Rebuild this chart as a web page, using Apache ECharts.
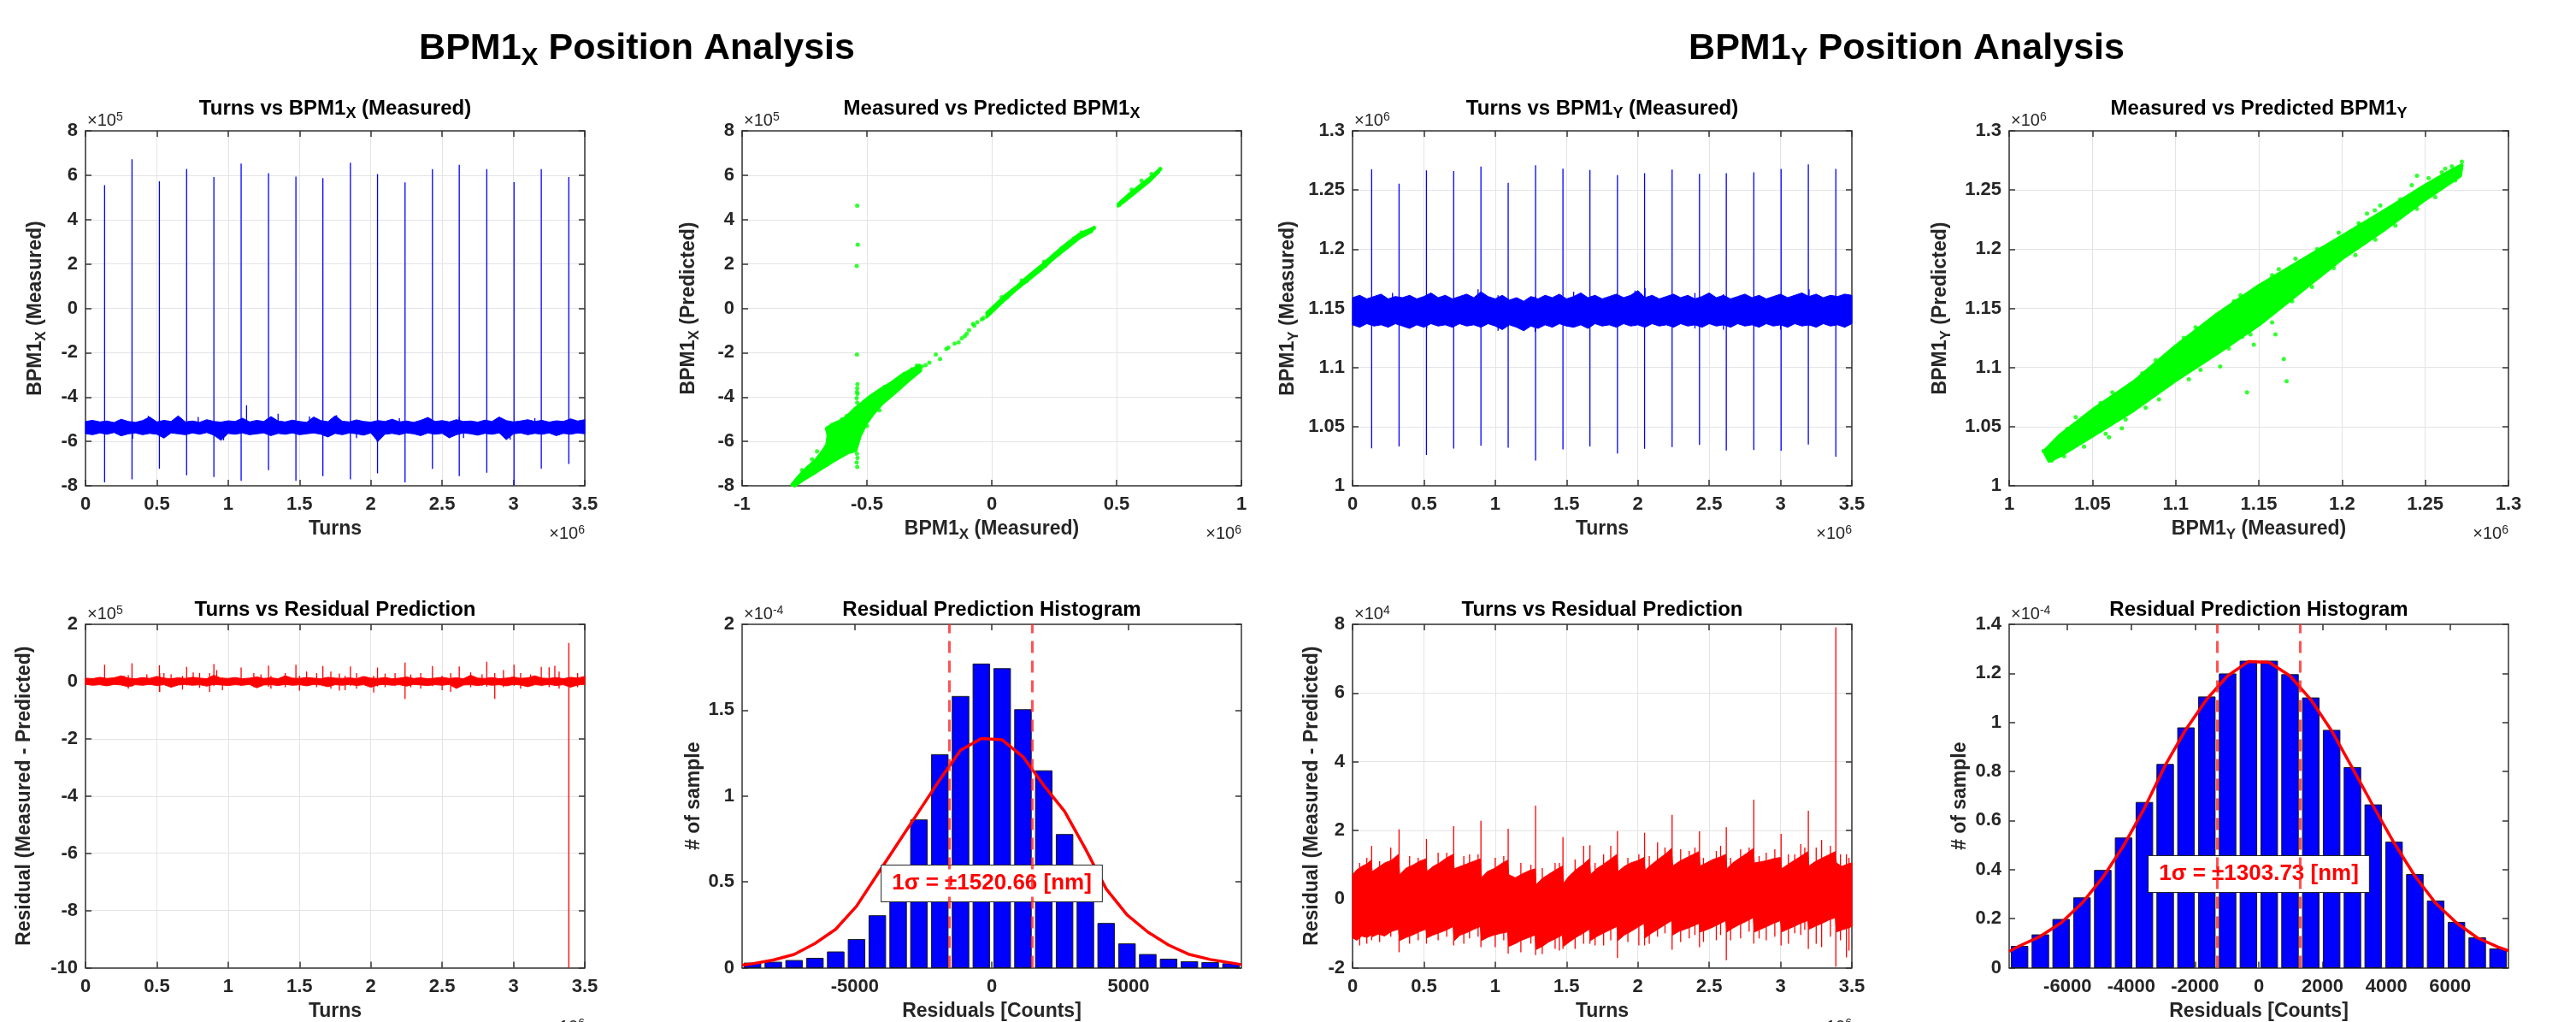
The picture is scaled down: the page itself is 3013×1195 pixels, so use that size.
<!DOCTYPE html>
<html>
<head>
<meta charset="utf-8">
<title>BPM1 Position Analysis</title>
<script src="https://cdn.jsdelivr.net/npm/echarts@6/dist/echarts.min.js"></script>
<style>
  html, body { margin: 0; padding: 0; background: #ffffff; }
  #chart { width: 3013px; height: 1195px; }
</style>
</head>
<body>
<div id="chart"></div>
<script>
// ---------------------------------------------------------------------------
// Data. Turns are in units of 10^6; every other value is in the unit that its
// axis multiplier shows (x10^5, x10^6, x10^4 or x10^-4).
// ---------------------------------------------------------------------------

// Turns at which the orbit kicks appear
const kickTurns = [0.134, 0.326, 0.518, 0.709, 0.900, 1.091, 1.283, 1.475, 1.664,
                   1.857, 2.047, 2.240, 2.432, 2.620, 2.813, 3.004, 3.195, 3.388];

// Spacing of the envelope samples of the noise bands (turns x10^6)
const bandStep = 0.05;

// BPM1 X measured (x10^5)
const xKickHigh = [5.55, 6.72, 5.73, 6.28, 5.92, 6.53, 6.09, 5.94, 5.87, 6.56, 6.05, 5.68, 6.27, 6.47, 6.27, 5.69, 6.27, 5.92];
const xKickLow  = [-7.85, -7.71, -7.23, -7.53, -7.60, -7.78, -7.30, -7.78, -7.57, -7.71, -7.44, -7.85, -7.24, -7.57, -7.41, -7.96, -7.23, -7.02];
const xBandHigh = [
  -5.10, -5.05, -5.12, -5.08, -5.15, -5.00, -5.10, -5.14, -5.06, -4.90,
  -5.12, -5.05, -5.10, -4.85, -5.12, -5.08, -5.14, -5.02, -5.10, -5.13,
  -5.07, -5.10, -4.95, -5.12, -5.05, -5.10, -4.88, -5.08, -5.12, -5.04,
  -5.10, -5.14, -4.90, -5.06, -5.11, -4.84, -5.09, -5.12, -5.03, -5.10,
  -5.13, -5.06, -5.10, -5.00, -5.12, -5.08, -5.14, -5.05, -4.92, -5.10,
  -5.06, -5.12, -5.02, -5.10, -5.08, -5.13, -5.04, -5.10, -4.90, -5.06,
  -5.12, -5.08, -5.02, -5.10, -5.05, -5.13, -5.07, -5.10, -4.98, -5.08, -5.02];
const xBandLow = [
  -5.65, -5.70, -5.62, -5.68, -5.60, -5.75, -5.66, -5.62, -5.70, -5.64,
  -5.68, -5.85, -5.62, -5.66, -5.70, -5.62, -5.68, -5.60, -5.72, -5.95,
  -5.64, -5.68, -5.62, -5.70, -5.66, -5.62, -5.74, -5.64, -5.68, -5.62,
  -5.70, -5.66, -5.62, -5.68, -5.80, -5.64, -5.70, -5.62, -5.66, -5.72,
  -5.62, -6.00, -5.68, -5.64, -5.70, -5.62, -5.66, -5.74, -5.62, -5.68,
  -5.64, -5.84, -5.70, -5.62, -5.66, -5.72, -5.64, -5.68, -5.62, -5.92,
  -5.66, -5.62, -5.70, -5.64, -5.68, -5.62, -5.74, -5.64, -5.68, -5.62, -5.66];
// [turn, high, low]
const xGlitches = [
  [1.129, -4.37, -5.40], [1.350, -4.75, -5.50], [0.440, -4.85, -5.50], [0.790, -4.90, -5.60],
  [1.570, -4.88, -5.50], [1.760, -4.82, -5.50], [2.620, -4.90, -5.50], [2.200, -4.95, -5.60],
  [3.150, -4.95, -5.60], [0.968, -5.20, -5.95], [2.045, -5.10, -6.02], [2.977, -5.20, -5.92],
  [0.330, -5.10, -5.88], [1.900, -5.20, -5.85], [2.650, -5.20, -5.85]];

// BPM1 Y measured (x10^6)
const yKickHigh = [1.2675, 1.2554, 1.2665, 1.2660, 1.2698, 1.2560, 1.2709, 1.2680, 1.2670, 1.2626, 1.2642, 1.2673, 1.2637, 1.2642, 1.2650, 1.2678, 1.2716, 1.2678];
const yKickLow  = [1.0317, 1.0332, 1.0260, 1.0314, 1.0338, 1.0322, 1.0214, 1.0307, 1.0332, 1.0273, 1.0312, 1.0327, 1.0345, 1.0299, 1.0302, 1.0296, 1.0348, 1.0245];
const yBandHigh = [
  1.159, 1.161, 1.158, 1.160, 1.162, 1.158, 1.160, 1.159, 1.161, 1.158,
  1.160, 1.163, 1.159, 1.161, 1.158, 1.160, 1.162, 1.159, 1.164, 1.160,
  1.158, 1.161, 1.157, 1.159, 1.156, 1.160, 1.158, 1.161, 1.159, 1.162,
  1.158, 1.160, 1.163, 1.159, 1.161, 1.158, 1.160, 1.162, 1.159, 1.161,
  1.165, 1.159, 1.161, 1.158, 1.160, 1.162, 1.159, 1.161, 1.158, 1.160,
  1.163, 1.159, 1.161, 1.158, 1.160, 1.162, 1.159, 1.161, 1.158, 1.160,
  1.162, 1.159, 1.161, 1.163, 1.160, 1.162, 1.159, 1.161, 1.160, 1.162, 1.161];
const yBandLow = [
  1.136, 1.134, 1.137, 1.135, 1.136, 1.134, 1.137, 1.135, 1.133, 1.136,
  1.134, 1.137, 1.135, 1.136, 1.134, 1.137, 1.135, 1.136, 1.134, 1.137,
  1.135, 1.132, 1.136, 1.134, 1.131, 1.135, 1.133, 1.136, 1.134, 1.137,
  1.135, 1.134, 1.136, 1.133, 1.137, 1.135, 1.136, 1.134, 1.137, 1.135,
  1.136, 1.134, 1.137, 1.135, 1.136, 1.134, 1.137, 1.135, 1.136, 1.134,
  1.137, 1.135, 1.136, 1.134, 1.137, 1.135, 1.136, 1.134, 1.137, 1.135,
  1.136, 1.134, 1.137, 1.135, 1.136, 1.134, 1.137, 1.135, 1.136, 1.134, 1.137];
const yGlitches = [
  [0.280, 1.163, 1.136], [0.520, 1.162, 1.133], [0.880, 1.166, 1.137], [1.020, 1.161, 1.131],
  [1.280, 1.160, 1.130], [1.550, 1.164, 1.136], [1.980, 1.165, 1.135], [2.050, 1.167, 1.136],
  [2.400, 1.163, 1.133], [2.600, 1.162, 1.132], [3.000, 1.161, 1.132], [3.200, 1.166, 1.135],
  [3.450, 1.162, 1.134]];

// Measured vs predicted X: dense cloud outlines [measured x10^6, predicted x10^5]
const xCloud = [
  [-0.800, -7.95], [-0.770, -7.55], [-0.738, -7.18], [-0.705, -6.85], [-0.680, -6.50],
  [-0.660, -6.15], [-0.655, -5.75], [-0.660, -5.40], [-0.630, -5.20], [-0.600, -5.05],
  [-0.572, -4.80], [-0.547, -4.52], [-0.520, -4.28], [-0.490, -4.00], [-0.440, -3.62],
  [-0.400, -3.35], [-0.360, -3.02], [-0.320, -2.78], [-0.290, -2.58], [-0.285, -2.80],
  [-0.330, -3.22], [-0.380, -3.72], [-0.440, -4.30], [-0.475, -4.75], [-0.505, -5.22],
  [-0.528, -5.75], [-0.545, -6.40], [-0.575, -6.50], [-0.638, -6.90], [-0.705, -7.38],
  [-0.755, -7.72], [-0.790, -8.00]];
const xStrandMid = [
  [-0.020, -0.20], [0.050, 0.55], [0.100, 1.00], [0.150, 1.50], [0.200, 1.95], [0.250, 2.45],
  [0.300, 2.92], [0.350, 3.35], [0.410, 3.65], [0.400, 3.45], [0.350, 3.15], [0.300, 2.70],
  [0.250, 2.25], [0.200, 1.75], [0.150, 1.30], [0.100, 0.85], [0.050, 0.35], [-0.020, -0.40]];
const xStrandTop = [
  [0.505, 4.70], [0.550, 5.15], [0.600, 5.60], [0.640, 5.95], [0.675, 6.30],
  [0.670, 6.15], [0.630, 5.70], [0.580, 5.25], [0.530, 4.80], [0.505, 4.60]];
const xPoints = [
  [-0.265, -2.56], [-0.224, -2.08], [-0.207, -2.28], [-0.182, -1.83], [-0.174, -1.77], [-0.149, -1.59],
  [-0.133, -1.53], [-0.108, -1.25], [-0.091, -0.98], [-0.075, -0.70], [-0.058, -0.63], [-0.033, -0.43],
  [-0.017, -0.22], [-0.250, -2.45], [-0.280, -2.62], [-0.120, -1.35], [-0.100, -1.15], [-0.070, -0.78],
  [-0.040, -0.50],
  [-0.539, 4.63], [-0.537, 2.87], [-0.541, 1.91], [-0.540, -2.08], [-0.538, -3.42], [-0.539, -3.60],
  [-0.540, -3.77], [-0.538, -3.86], [-0.541, -4.05], [-0.539, -4.25], [-0.540, -6.55], [-0.538, -6.75],
  [-0.541, -6.95], [-0.539, -7.15],
  [0.040, 0.50], [0.060, 0.48], [0.120, 1.25], [0.140, 1.22], [0.210, 2.10], [0.215, 1.92],
  [0.280, 2.72], [0.330, 3.15], [0.360, 3.42], [0.390, 3.45], [0.410, 3.62],
  [0.510, 4.66], [0.560, 5.35], [0.600, 5.75], [0.640, 6.05], [0.665, 6.15], [0.675, 6.28],
  [-0.660, -5.45], [-0.640, -5.25], [-0.600, -5.00], [-0.580, -4.85], [-0.700, -6.45], [-0.720, -6.80],
  [-0.760, -7.30], [-0.510, -4.20], [-0.470, -3.95], [-0.430, -3.55], [-0.350, -2.95], [-0.320, -2.75],
  [-0.300, -2.58], [-0.360, -3.25], [-0.450, -4.60], [-0.500, -5.30], [-0.600, -6.60], [-0.660, -7.05]];

// Measured vs predicted Y (x10^6 on both axes)
const yCloud = [
  [1.021, 1.029], [1.030, 1.042], [1.050, 1.064], [1.075, 1.088], [1.100, 1.118], [1.125, 1.145],
  [1.150, 1.169], [1.175, 1.190], [1.200, 1.211], [1.225, 1.232], [1.250, 1.254], [1.265, 1.266],
  [1.272, 1.271], [1.271, 1.262], [1.250, 1.242], [1.225, 1.216], [1.200, 1.192], [1.175, 1.164],
  [1.150, 1.136], [1.125, 1.112], [1.100, 1.089], [1.075, 1.064], [1.050, 1.042], [1.030, 1.025],
  [1.024, 1.021]];
const yPoints = [
  [1.1429, 1.0789], [1.1650, 1.1072], [1.1667, 1.0884], [1.1268, 1.1008], [1.0677, 1.0487],
  [1.1470, 1.1193], [1.0207, 1.0294], [1.0256, 1.0214], [1.2419, 1.2541], [1.2197, 1.2327],
  [1.2720, 1.2740], [1.1400, 1.1260], [1.1600, 1.1280], [1.1870, 1.1840], [1.1300, 1.1320],
  [1.0900, 1.0730], [1.0600, 1.0410], [1.2150, 1.2300], [1.2450, 1.2620], [1.0350, 1.0480],
  [1.0550, 1.0700], [1.0800, 1.0950], [1.1050, 1.1250], [1.1350, 1.1560], [1.1580, 1.1780],
  [1.1850, 1.2000], [1.2100, 1.2220], [1.2350, 1.2420], [1.2600, 1.2650], [1.0450, 1.0330],
  [1.0700, 1.0560], [1.1150, 1.0980], [1.1450, 1.1280], [1.1700, 1.1560], [1.1950, 1.1840],
  [1.2200, 1.2080], [1.2450, 1.2340], [1.2680, 1.2580],
  [1.0400, 1.0580], [1.0620, 1.0790], [1.0880, 1.1060], [1.1120, 1.1340], [1.1390, 1.1610],
  [1.1620, 1.1830], [1.1720, 1.1920], [1.1980, 1.2140], [1.2230, 1.2370], [1.2520, 1.2600],
  [1.0330, 1.0250], [1.0580, 1.0440], [1.0820, 1.0660], [1.1080, 1.0900], [1.1320, 1.1160],
  [1.1580, 1.1380], [1.1820, 1.1680], [1.2080, 1.1950], [1.2320, 1.2200], [1.2560, 1.2440],
  [1.2660, 1.2700], [1.2620, 1.2680], [1.0280, 1.0360], [1.0240, 1.0300]];

// Residual X (x10^5)
const resXKickHigh = [0.59, 0.64, 0.57, 0.51, 0.61, 0.49, 0.56, 0.59, 0.54, 0.53, 0.49, 0.66, 0.54, 0.53, 0.69, 0.59, 0.51, 1.35];
const resXKickLow  = [-0.15, -0.18, -0.36, -0.14, -0.16, -0.15, -0.18, -0.14, -0.16, -0.15, -0.17, -0.61, -0.16, -0.14, -0.18, -0.15, -0.16, -10.0];
const resXBandHigh = [
  0.12, 0.10, 0.15, 0.11, 0.13, 0.20, 0.12, 0.10, 0.14, 0.11,
  0.18, 0.12, 0.10, 0.13, 0.11, 0.15, 0.12, 0.10, 0.22, 0.12,
  0.11, 0.14, 0.10, 0.12, 0.16, 0.11, 0.13, 0.10, 0.20, 0.12,
  0.11, 0.14, 0.12, 0.10, 0.15, 0.12, 0.11, 0.13, 0.10, 0.18,
  0.12, 0.11, 0.14, 0.10, 0.12, 0.16, 0.11, 0.13, 0.10, 0.12,
  0.15, 0.11, 0.13, 0.10, 0.22, 0.12, 0.11, 0.14, 0.10, 0.12,
  0.16, 0.11, 0.13, 0.20, 0.12, 0.11, 0.14, 0.10, 0.15, 0.12, 0.18];
const resXBandLow = [
  -0.10, -0.13, -0.11, -0.15, -0.10, -0.12, -0.18, -0.11, -0.13, -0.10,
  -0.14, -0.11, -0.20, -0.12, -0.10, -0.13, -0.11, -0.16, -0.10, -0.12,
  -0.14, -0.11, -0.13, -0.10, -0.22, -0.12, -0.11, -0.14, -0.10, -0.13,
  -0.11, -0.15, -0.10, -0.12, -0.18, -0.11, -0.13, -0.10, -0.14, -0.11,
  -0.20, -0.12, -0.10, -0.13, -0.11, -0.16, -0.10, -0.12, -0.14, -0.11,
  -0.13, -0.10, -0.24, -0.12, -0.11, -0.14, -0.10, -0.13, -0.11, -0.15,
  -0.10, -0.12, -0.18, -0.11, -0.13, -0.10, -0.14, -0.11, -0.20, -0.12, -0.10];
const resXGlitches = [
  [0.270, 0.20, -0.10], [0.300, 0.22, -0.25], [0.430, 0.25, -0.10], [0.520, 0.30, -0.36], [0.550, 0.30, -0.10],
  [0.600, 0.25, -0.20], [0.680, 0.20, -0.28], [0.755, 0.32, -0.10], [0.800, 0.30, -0.22], [0.870, 0.30, -0.36],
  [0.920, 0.40, -0.10], [0.960, 0.15, -0.30], [1.180, 0.30, -0.20], [1.230, 0.25, -0.10], [1.300, 0.20, -0.25],
  [1.400, 0.30, -0.20], [1.500, 0.20, -0.32], [1.550, 0.35, -0.15], [1.620, 0.30, -0.20], [1.720, 0.35, -0.25],
  [1.780, 0.28, -0.32], [1.820, 0.20, -0.30], [1.900, 0.30, -0.25], [2.020, 0.20, -0.38], [2.100, 0.28, -0.20],
  [2.170, 0.30, -0.15], [2.280, 0.25, -0.20], [2.350, 0.30, -0.25], [2.500, 0.20, -0.30], [2.560, 0.30, -0.36],
  [2.700, 0.32, -0.20], [2.780, 0.25, -0.15], [2.869, 0.30, -0.61], [2.930, 0.40, -0.20], [3.050, 0.30, -0.25],
  [3.120, 0.25, -0.15], [3.250, 0.50, -0.20], [3.290, 0.55, -0.15], [3.320, 0.35, -0.25], [3.450, 0.30, -0.20]];

// Residual Y (x10^4): band envelope [turn, high, low]
const resYBand = [
  [0.000, 0.71, -1.13], [0.030, 0.85, -1.20], [0.065, 0.95, -1.08], [0.100, 1.02, -1.12], [0.130, 1.13, -1.05],
  [0.138, 0.80, -1.10], [0.180, 0.92, -1.02], [0.225, 1.05, -1.08], [0.270, 1.12, -0.95], [0.322, 1.30, -0.88],
  [0.330, 0.71, -1.21], [0.375, 0.90, -1.12], [0.420, 0.98, -1.05], [0.470, 1.10, -0.95], [0.514, 1.17, -0.88],
  [0.522, 0.80, -1.13], [0.565, 0.95, -1.05], [0.610, 1.05, -0.98], [0.660, 1.20, -0.90], [0.705, 1.30, -0.80],
  [0.713, 0.88, -1.21], [0.755, 0.95, -1.05], [0.800, 1.02, -0.98], [0.850, 1.10, -0.88], [0.896, 1.17, -0.80],
  [0.904, 0.63, -1.21], [0.945, 0.80, -1.12], [0.990, 0.88, -1.05], [1.040, 1.02, -1.00], [1.087, 1.13, -0.96],
  [1.095, 0.71, -1.38], [1.140, 0.62, -1.30], [1.185, 0.72, -1.20], [1.235, 0.82, -1.12], [1.279, 0.88, -1.05],
  [1.287, 0.42, -1.47], [1.330, 0.60, -1.38], [1.375, 0.72, -1.25], [1.425, 0.85, -1.15], [1.471, 0.96, -1.05],
  [1.479, 0.46, -1.38], [1.520, 0.68, -1.25], [1.565, 0.85, -1.12], [1.615, 1.00, -1.00], [1.660, 1.17, -0.88],
  [1.668, 0.71, -1.21], [1.710, 0.88, -1.10], [1.755, 1.00, -1.00], [1.805, 1.15, -0.90], [1.853, 1.30, -0.80],
  [1.861, 0.80, -1.21], [1.905, 0.95, -1.05], [1.950, 1.05, -0.95], [2.000, 1.12, -0.82], [2.043, 1.21, -0.71],
  [2.051, 0.84, -1.13], [2.095, 1.00, -1.00], [2.140, 1.15, -0.88], [2.190, 1.30, -0.75], [2.236, 1.47, -0.63],
  [2.244, 0.96, -1.05], [2.285, 1.08, -0.95], [2.330, 1.18, -0.88], [2.380, 1.28, -0.80], [2.428, 1.38, -0.71],
  [2.436, 0.96, -0.96], [2.480, 1.05, -0.90], [2.525, 1.15, -0.82], [2.575, 1.22, -0.72], [2.616, 1.30, -0.63],
  [2.624, 0.88, -0.96], [2.665, 1.05, -0.85], [2.710, 1.18, -0.75], [2.760, 1.32, -0.65], [2.809, 1.47, -0.54],
  [2.817, 1.05, -0.96], [2.860, 1.08, -0.88], [2.905, 1.12, -0.80], [2.955, 1.18, -0.70], [3.000, 1.21, -0.63],
  [3.008, 0.88, -0.96], [3.050, 1.00, -0.88], [3.095, 1.12, -0.80], [3.145, 1.25, -0.70], [3.191, 1.38, -0.63],
  [3.199, 0.96, -0.88], [3.240, 1.08, -0.80], [3.285, 1.18, -0.72], [3.335, 1.28, -0.62], [3.384, 1.38, -0.54],
  [3.392, 1.05, -0.96], [3.430, 0.95, -0.90], [3.470, 1.02, -0.85], [3.500, 1.05, -0.80]];
const resYKickHigh = [1.55, 2.03, 1.75, 2.12, 2.28, 2.05, 2.72, 1.80, 1.57, 1.98, 1.93, 2.45, 1.97, 2.09, 2.89, 1.90, 2.57, 7.91];
const resYKickLow  = [-1.20, -1.55, -1.30, -1.35, -1.40, -1.59, -1.63, -1.45, -1.30, -1.72, -1.35, -1.48, -1.40, -1.78, -1.30, -1.35, -1.45, -1.97];
const resYGlitches = [
  [0.268, 1.50, -1.10], [0.600, 1.35, -1.20], [0.780, 1.25, -1.30], [0.820, 1.30, -1.15], [1.000, 1.20, -1.40],
  [1.180, 1.05, -1.55], [1.330, 0.90, -1.60], [1.420, 1.05, -1.45], [1.560, 1.15, -1.45], [1.620, 1.55, -1.30],
  [1.760, 1.30, -1.35], [1.810, 1.55, -1.20], [2.007, 1.30, -1.35], [2.138, 1.65, -1.10], [2.190, 1.50, -1.00],
  [2.300, 1.45, -1.25], [2.360, 1.40, -1.15], [2.550, 1.40, -1.20], [2.580, 1.55, -1.05], [2.720, 1.45, -1.15],
  [2.780, 1.50, -0.95], [2.900, 1.35, -1.20], [2.960, 1.45, -1.10], [3.055, 1.30, -1.30], [3.142, 1.60, -1.05],
  [3.250, 1.50, -1.30], [3.288, 1.72, -1.40], [3.350, 1.55, -1.10], [3.462, 1.30, -1.70], [3.480, 1.20, -1.50],
  [0.050, 1.05, -1.35], [0.100, 1.20, -1.30], [0.190, 1.10, -1.25], [0.400, 1.25, -1.30], [0.460, 1.20, -1.20],
  [0.660, 1.35, -1.10], [0.880, 1.30, -1.10], [1.060, 1.25, -1.20], [1.250, 1.00, -1.30], [1.450, 1.05, -1.50],
  [1.700, 1.05, -1.35], [1.930, 1.20, -1.25], [2.080, 1.25, -1.30], [2.400, 1.50, -1.05], [2.460, 1.20, -1.25],
  [2.650, 1.20, -1.20], [2.850, 1.25, -1.15], [3.100, 1.30, -1.00], [3.170, 1.50, -0.90], [3.420, 1.30, -1.20]];

// Residual histograms (density x10^-4), 24 equal bins over [-edge, edge]
const histXEdge = 9120;
const histXDensity = [0.027, 0.032, 0.042, 0.055, 0.092, 0.164, 0.303, 0.550, 0.861, 1.241, 1.580, 1.769,
                      1.742, 1.503, 1.147, 0.776, 0.500, 0.258, 0.139, 0.077, 0.050, 0.035, 0.030, 0.023];
// Fitted normal curve sampled at the left edge, the 24 bin centres and the right edge
const histXFit = [0.015, 0.023, 0.045, 0.077, 0.141, 0.224, 0.358, 0.543, 0.727, 0.911, 1.095, 1.266, 1.335,
                  1.327, 1.229, 1.062, 0.911, 0.693, 0.459, 0.308, 0.208, 0.132, 0.077, 0.048, 0.028, 0.018];
const histXMean = -30;
const histXSigma = 1520.66;
const histXTicks = [-5000, 0, 5000];
const histXNoteAt = 0.545;   // height of the sigma note (x10^-4)

const histYEdge = 7830;
const histYDensity = [0.087, 0.134, 0.197, 0.285, 0.397, 0.529, 0.674, 0.829, 0.978, 1.104, 1.198, 1.250,
                      1.250, 1.195, 1.100, 0.968, 0.816, 0.664, 0.512, 0.380, 0.272, 0.185, 0.122, 0.077];
const histYFit = [0.066, 0.089, 0.128, 0.183, 0.263, 0.368, 0.497, 0.650, 0.825, 0.972, 1.095, 1.190, 1.248,
                  1.245, 1.190, 1.093, 0.966, 0.814, 0.659, 0.509, 0.374, 0.263, 0.183, 0.122, 0.084, 0.069];
const histYMean = -12;
const histYSigma = 1303.73;
const histYTicks = [-6000, -4000, -2000, 0, 2000, 4000, 6000];
const histYNoteAt = 0.42;

// ---------------------------------------------------------------------------
// Styling and layout
// ---------------------------------------------------------------------------
const FONT = '"Liberation Sans", Arial, Helvetica, sans-serif';
const INK = '#262626';
const AXIS = '#333333';
const GRIDLINE = '#e4e4e4';
const BLUE = '#0000ff';
const RED = '#ff0000';
const GREEN = '#00ff00';

const colLeft = [100, 868, 1582, 2350];
const rowTop = [153, 730];
const plotW = 584;
const plotH = 415;

const nameRich = {
  b: { fontFamily: FONT, fontWeight: 'bold', fontSize: 23, lineHeight: 30, color: INK },
  s: { fontFamily: FONT, fontWeight: 'bold', fontSize: 17, lineHeight: 4, verticalAlign: 'bottom', color: INK }
};

const fmt = v => String(Math.round(v * 1e6) / 1e6);

// One entry per panel, row by row
const panels = [
  { title: '{b|Turns vs BPM1}{s|X}{b| (Measured)}', grid: true, expTop: '5', expBottom: '6',
    x: { min: 0, max: 3.5, interval: 0.5, name: '{b|Turns}' },
    y: { min: -8, max: 8, interval: 2, name: '{b|BPM1}{s|X}{b| (Measured)}', gap: 43 } },
  { title: '{b|Measured vs Predicted BPM1}{s|X}', grid: true, expTop: '5', expBottom: '6',
    x: { min: -1, max: 1, interval: 0.5, name: '{b|BPM1}{s|X}{b| (Measured)}' },
    y: { min: -8, max: 8, interval: 2, name: '{b|BPM1}{s|X}{b| (Predicted)}', gap: 47 } },
  { title: '{b|Turns vs BPM1}{s|Y}{b| (Measured)}', grid: true, expTop: '6', expBottom: '6',
    x: { min: 0, max: 3.5, interval: 0.5, name: '{b|Turns}' },
    y: { min: 1, max: 1.3, interval: 0.05, name: '{b|BPM1}{s|Y}{b| (Measured)}', gap: 60 } },
  { title: '{b|Measured vs Predicted BPM1}{s|Y}', grid: true, expTop: '6', expBottom: '6',
    x: { min: 1, max: 1.3, interval: 0.05, name: '{b|BPM1}{s|Y}{b| (Measured)}' },
    y: { min: 1, max: 1.3, interval: 0.05, name: '{b|BPM1}{s|Y}{b| (Predicted)}', gap: 65 } },
  { title: '{b|Turns vs Residual Prediction}', grid: true, expTop: '5', expBottom: '6',
    x: { min: 0, max: 3.5, interval: 0.5, name: '{b|Turns}' },
    y: { min: -10, max: 2, interval: 2, name: '{b|Residual (Measured - Predicted)}', gap: 56 } },
  { title: '{b|Residual Prediction Histogram}', grid: false, expTop: '-4', expBottom: null,
    x: { min: -histXEdge, max: histXEdge, ticks: histXTicks, name: '{b|Residuals [Counts]}' },
    y: { min: 0, max: 2, interval: 0.5, name: '{b|# of sample}', gap: 41 } },
  { title: '{b|Turns vs Residual Prediction}', grid: true, expTop: '4', expBottom: '6',
    x: { min: 0, max: 3.5, interval: 0.5, name: '{b|Turns}' },
    y: { min: -2, max: 8, interval: 2, name: '{b|Residual (Measured - Predicted)}', gap: 32 } },
  { title: '{b|Residual Prediction Histogram}', grid: false, expTop: '-4', expBottom: null,
    x: { min: -histYEdge, max: histYEdge, ticks: histYTicks, name: '{b|Residuals [Counts]}' },
    y: { min: 0, max: 1.4, interval: 0.2, name: '{b|# of sample}', gap: 42 } }
];

const grids = [], xAxes = [], yAxes = [];
const graphics = [];

const titleRich = {
  b: { fontFamily: FONT, fontWeight: 'bold', fontSize: 24, lineHeight: 30, fill: '#000000' },
  s: { fontFamily: FONT, fontWeight: 'bold', fontSize: 18, lineHeight: 6, verticalAlign: 'bottom', fill: '#000000' }
};
const expRich = {
  m: { fontFamily: FONT, fontSize: 20, lineHeight: 22, fill: INK },
  p: { fontFamily: FONT, fontSize: 14, lineHeight: 4, verticalAlign: 'top', fill: INK }
};

panels.forEach((p, g) => {
  const col = g % 4, row = Math.floor(g / 4);
  const left = colLeft[col], top = rowTop[row];
  grids.push({ left: left, top: top, width: plotW, height: plotH });

  const line = { show: true, onZero: false, lineStyle: { color: AXIS, width: 1.5 } };
  const tick = vals => ({ show: true, inside: true, length: 7, lineStyle: { color: AXIS, width: 1.5 }, customValues: vals });
  const label = (vals, margin) => ({ show: true, margin: margin, color: INK, fontFamily: FONT,
    fontWeight: 'bold', fontSize: 22, formatter: fmt, customValues: vals });
  const split = { show: p.grid, lineStyle: { color: GRIDLINE, width: 1 } };

  xAxes.push({ type: 'value', gridIndex: g, position: 'bottom', min: p.x.min, max: p.x.max, interval: p.x.interval,
    axisLine: line, axisTick: tick(p.x.ticks), axisLabel: label(p.x.ticks, 11), splitLine: split,
    name: p.x.name, nameLocation: 'middle', nameGap: 36, nameTextStyle: { rich: nameRich } });
  xAxes.push({ type: 'value', gridIndex: g, position: 'top', min: p.x.min, max: p.x.max, interval: p.x.interval,
    axisLine: line, axisTick: tick(p.x.ticks), axisLabel: { show: false }, splitLine: { show: false } });
  yAxes.push({ type: 'value', gridIndex: g, position: 'left', min: p.y.min, max: p.y.max, interval: p.y.interval,
    axisLine: line, axisTick: tick(), axisLabel: label(undefined, 9), splitLine: split,
    name: p.y.name, nameLocation: 'middle', nameGap: p.y.gap, nameTextStyle: { rich: nameRich } });
  yAxes.push({ type: 'value', gridIndex: g, position: 'right', min: p.y.min, max: p.y.max, interval: p.y.interval,
    axisLine: line, axisTick: tick(), axisLabel: { show: false }, splitLine: { show: false } });

  graphics.push({ type: 'text', x: left + plotW / 2, y: row === 0 ? 127.5 : 713.5, silent: true,
    style: { text: p.title, rich: titleRich, align: 'center', verticalAlign: 'middle' } });
  graphics.push({ type: 'text', x: left + 2, y: top - 12, silent: true,
    style: { text: '{m|×10}{p|' + p.expTop + '}', rich: expRich, align: 'left', verticalAlign: 'middle' } });
  if (p.expBottom) {
    graphics.push({ type: 'text', x: left + plotW, y: top + plotH + 56, silent: true,
      style: { text: '{m|×10}{p|' + p.expBottom + '}', rich: expRich, align: 'right', verticalAlign: 'middle' } });
  }
});

// Figure headings
const headRich = {
  b: { fontFamily: FONT, fontWeight: 'bold', fontSize: 43, lineHeight: 52, fill: '#000000' },
  s: { fontFamily: FONT, fontWeight: 'bold', fontSize: 30, lineHeight: 2, verticalAlign: 'bottom', fill: '#000000' }
};
graphics.push({ type: 'text', x: 745, y: 57, silent: true,
  style: { text: '{b|BPM1}{s|X}{b| Position Analysis}', rich: headRich, align: 'center', verticalAlign: 'middle' } });
graphics.push({ type: 'text', x: 2230, y: 57, silent: true,
  style: { text: '{b|BPM1}{s|Y}{b| Position Analysis}', rich: headRich, align: 'center', verticalAlign: 'middle' } });

// ---------------------------------------------------------------------------
// Render helpers (all positions go through api.coord)
// ---------------------------------------------------------------------------
function bandRenderer(turns, high, low, color) {
  return function (params, api) {
    const n = Math.min(turns.length, high.length, low.length);
    const pts = [];
    for (let i = 0; i < n; i++) pts.push(api.coord([turns[i], high[i]]));
    for (let i = n - 1; i >= 0; i--) pts.push(api.coord([turns[i], low[i]]));
    return { type: 'polygon', shape: { points: pts }, style: { fill: color, stroke: color, lineWidth: 1 } };
  };
}
function cloudRenderer(outline, color, edge) {
  return function (params, api) {
    const pts = outline.map(d => api.coord(d));
    return { type: 'polygon', shape: { points: pts }, style: { fill: color, stroke: color, lineWidth: edge, lineJoin: 'round' } };
  };
}
function spikeRenderer(color, width) {
  return function (params, api) {
    const a = api.coord([api.value(0), api.value(1)]);
    const b = api.coord([api.value(0), api.value(2)]);
    return { type: 'line', shape: { x1: a[0], y1: a[1], x2: b[0], y2: b[1] }, style: { stroke: color, lineWidth: width } };
  };
}
function barRenderer(binWidth) {
  return function (params, api) {
    const c = api.value(0), h = api.value(1);
    const p0 = api.coord([c - binWidth * 0.4, h]);
    const p1 = api.coord([c + binWidth * 0.4, 0]);
    return { type: 'rect', shape: { x: p0[0], y: p0[1], width: p1[0] - p0[0], height: p1[1] - p0[1] },
      style: { fill: BLUE, stroke: '#1a1a1a', lineWidth: 1 } };
  };
}
function binCenters(edge, n) {
  const w = 2 * edge / n;
  return Array.from({ length: n }, (_, i) => -edge + (i + 0.5) * w);
}
function rows(turns, high, low) {
  return turns.map((t, i) => [t, high[i], low[i]]);
}
const bandTurns = xBandHigh.map((_, i) => i * bandStep);

function onGrid(g, s) { return Object.assign({ xAxisIndex: 2 * g, yAxisIndex: 2 * g, animation: false, silent: true }, s); }

function histogramSeries(g, edge, density, fit, mean, sigma, noteAt) {
  const centers = binCenters(edge, density.length);
  const binW = 2 * edge / density.length;
  const fitX = [-edge].concat(centers, [edge]);
  return [
    onGrid(g, { type: 'custom', z: 2, renderItem: barRenderer(binW), data: centers.map((c, i) => [c, density[i]]) }),
    onGrid(g, { type: 'line', z: 3, symbol: 'none', data: fitX.map((x, i) => [x, fit[i]]),
      lineStyle: { color: RED, width: 3.5 },
      markLine: { silent: true, symbol: 'none', z: 6, label: { show: false },
        lineStyle: { color: 'rgba(255,40,40,0.8)', width: 3, type: [14, 9] },
        data: [{ xAxis: mean - sigma }, { xAxis: mean + sigma }] } }),
    onGrid(g, { type: 'scatter', z: 4, symbol: 'circle', symbolSize: 1,
      itemStyle: { color: 'rgba(255,255,255,0)' }, data: [[0, noteAt]],
      label: { show: true, position: 'inside', offset: [0, 11], opacity: 1,
        formatter: '1σ = ±' + sigma.toFixed(2) + ' [nm]',
        color: RED, fontFamily: FONT, fontWeight: 'bold', fontSize: 26, lineHeight: 26,
        backgroundColor: '#ffffff', borderColor: INK, borderWidth: 1, padding: [8, 12] } })
  ];
}

const series = [
  // Turns vs BPM1 X
  onGrid(0, { type: 'custom', renderItem: bandRenderer(bandTurns, xBandHigh, xBandLow, BLUE), data: [[0, 0]] }),
  onGrid(0, { type: 'custom', renderItem: spikeRenderer(BLUE, 1.3), data: rows(kickTurns, xKickHigh, xKickLow).concat(xGlitches) }),
  // Measured vs predicted X
  onGrid(1, { type: 'custom', renderItem: cloudRenderer(xCloud, GREEN, 4), data: [[0, 0]] }),
  onGrid(1, { type: 'custom', renderItem: cloudRenderer(xStrandMid, GREEN, 3), data: [[0, 0]] }),
  onGrid(1, { type: 'custom', renderItem: cloudRenderer(xStrandTop, GREEN, 3), data: [[0, 0]] }),
  onGrid(1, { type: 'scatter', symbolSize: 5, itemStyle: { color: GREEN }, data: xPoints }),
  // Turns vs BPM1 Y
  onGrid(2, { type: 'custom', renderItem: bandRenderer(bandTurns, yBandHigh, yBandLow, BLUE), data: [[0, 1.15]] }),
  onGrid(2, { type: 'custom', renderItem: spikeRenderer(BLUE, 1.3), data: rows(kickTurns, yKickHigh, yKickLow).concat(yGlitches) }),
  // Measured vs predicted Y
  onGrid(3, { type: 'custom', renderItem: cloudRenderer(yCloud, GREEN, 4), data: [[1.15, 1.15]] }),
  onGrid(3, { type: 'scatter', symbolSize: 5, itemStyle: { color: GREEN }, data: yPoints }),
  // Residual X vs turns
  onGrid(4, { type: 'custom', renderItem: bandRenderer(bandTurns, resXBandHigh, resXBandLow, RED), data: [[0, 0]] }),
  onGrid(4, { type: 'custom', renderItem: spikeRenderer(RED, 1.3), data: rows(kickTurns, resXKickHigh, resXKickLow).concat(resXGlitches) }),
  // Residual Y vs turns
  onGrid(6, { type: 'custom', renderItem: bandRenderer(resYBand.map(r => r[0]), resYBand.map(r => r[1]), resYBand.map(r => r[2]), RED), data: [[0, 0]] }),
  onGrid(6, { type: 'custom', renderItem: spikeRenderer(RED, 1.3), data: rows(kickTurns, resYKickHigh, resYKickLow).concat(resYGlitches) })
].concat(
  histogramSeries(5, histXEdge, histXDensity, histXFit, histXMean, histXSigma, histXNoteAt),
  histogramSeries(7, histYEdge, histYDensity, histYFit, histYMean, histYSigma, histYNoteAt)
);

const chart = echarts.init(document.getElementById('chart'), null, { renderer: 'canvas' });
chart.setOption({
  backgroundColor: '#ffffff',
  animation: false,
  grid: grids,
  xAxis: xAxes,
  yAxis: yAxes,
  graphic: graphics,
  series: series
});
</script>
</body>
</html>
